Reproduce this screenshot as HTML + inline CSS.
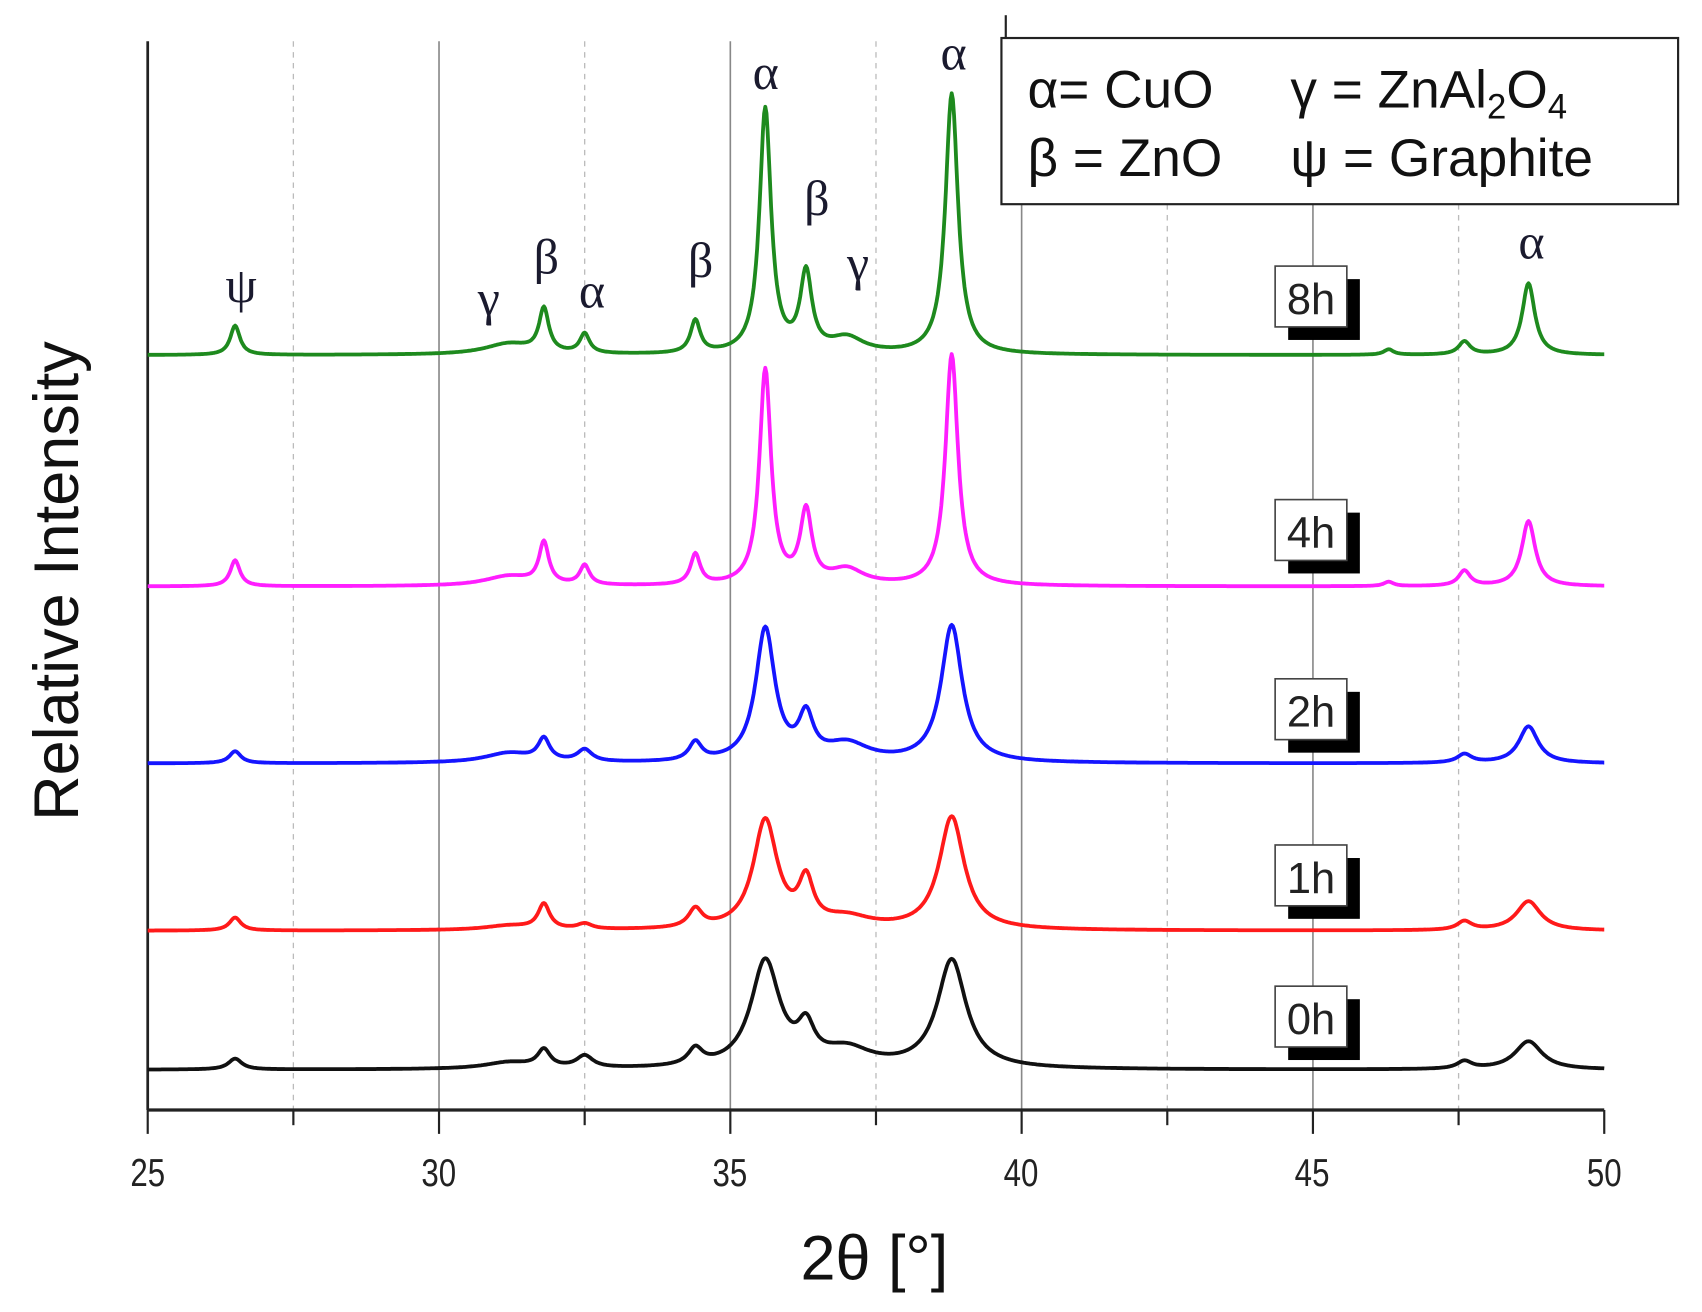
<!DOCTYPE html>
<html><head><meta charset="utf-8"><style>
html,body{margin:0;padding:0;background:#fff;}
svg{display:block;}
</style></head><body>
<svg id="s" width="1702" height="1312" viewBox="0 0 1567 1208" preserveAspectRatio="none" xmlns="http://www.w3.org/2000/svg" font-family="Liberation Sans, Arial, sans-serif">
<rect width="1567" height="1208" fill="#fff"/>
<g id="grid"></g>
<line x1="136" y1="38" x2="136" y2="1022" stroke="#222" stroke-width="2.5"/>
<line x1="136" y1="1022" x2="1477" y2="1022" stroke="#222" stroke-width="3"/>
<line x1="926" y1="14" x2="926" y2="36" stroke="#222" stroke-width="2"/>
<line x1="926" y1="36" x2="1095" y2="36" stroke="#222" stroke-width="2"/>
<g id="ticks" stroke="#222" stroke-width="2"></g>
<g font-size="36" fill="#222" text-anchor="middle">
<text transform="translate(136,1092) scale(0.8,1)">25</text><text transform="translate(404,1092) scale(0.8,1)">30</text><text transform="translate(672,1092) scale(0.8,1)">35</text>
<text transform="translate(940,1092) scale(0.8,1)">40</text><text transform="translate(1208,1092) scale(0.8,1)">45</text><text transform="translate(1477,1092) scale(0.8,1)">50</text>
</g>
<text x="805" y="1178" font-size="58" text-anchor="middle" fill="#111">2θ [°]</text>
<text transform="translate(72,535) rotate(-90)" font-size="58" text-anchor="middle" fill="#111">Relative Intensity</text>
<g id="curves" fill="none" stroke-width="3.5" stroke-linejoin="round"></g>
<g id="labels"></g>
<g font-family="Liberation Serif, serif" font-size="46" fill="#1a1a2e" text-anchor="middle">
<text x="222" y="278">ψ</text><text x="450" y="290">γ</text><text x="503" y="252">β</text>
<text x="545" y="283">α</text><text x="645" y="255">β</text><text x="705" y="82">α</text>
<text x="752" y="198">β</text><text x="790" y="258">γ</text><text x="878" y="64">α</text>
<text x="1410" y="238">α</text>
</g>
<rect x="922" y="35" width="623" height="153" fill="#fff" stroke="#222" stroke-width="2"/>
<g font-size="49" fill="#111">
<text x="946" y="99">α= CuO</text>
<text x="1188" y="99">γ = ZnAl<tspan font-size="32" dy="10">2</tspan><tspan dy="-10">O</tspan><tspan font-size="32" dy="10">4</tspan></text>
<text x="946" y="162">β = ZnO</text>
<text x="1188" y="162">ψ = Graphite</text>
</g>
</svg>
<script>
const NS="http://www.w3.org/2000/svg";
const X=d=>136+(d-25)*1341/25;
function el(p,t,a,txt){const e=document.createElementNS(NS,t);for(const k in a)e.setAttribute(k,a[k]);if(txt)e.textContent=txt;document.getElementById(p).appendChild(e);return e;}
for(let d=27.5;d<50;d+=2.5){const solid=(d%5===0);
 el("grid","line",{x1:X(d),x2:X(d),y1:38,y2:1022,stroke:solid?"#888":"#bbb","stroke-width":solid?1.5:1.2,"stroke-dasharray":solid?"":"5,5"});}
for(let d=25;d<=50;d+=2.5){el("ticks","line",{x1:X(d),x2:X(d),y1:1022,y2:d%5===0?1044:1036});}
const S=[
 {c:"#1e8a1e",b:327,p:[[26.5,27,.1],[31.2,10,.5],[31.8,40,.1],[32.5,18,.1],[34.4,30,.1],[35.6,225,.12],[36.3,72,.12],[37,14,.35],[38.8,240,.13],[46.3,5,.1],[47.6,12,.12],[48.7,66,.13]],lb:272},
 {c:"#ff1eff",b:540,p:[[26.5,24,.1],[31.2,9,.5],[31.8,38,.1],[32.5,18,.1],[34.4,28,.1],[35.6,198,.12],[36.3,66,.12],[37,14,.35],[38.8,213,.13],[46.3,4,.1],[47.6,14,.12],[48.7,60,.14]],lb:487},
 {c:"#1515ff",b:703,p:[[26.5,11,.12],[31.2,9,.5],[31.8,20,.12],[32.5,11,.15],[34.4,17,.13],[35.6,122,.2],[36.3,38,.15],[37,16,.45],[38.8,126,.22],[47.6,8,.15],[48.7,34,.2]],lb:652},
 {c:"#ff1a1a",b:857,p:[[26.5,12,.12],[31.2,4,.5],[31.8,23,.12],[32.5,5,.15],[34.4,17,.14],[35.6,100,.25],[36.3,40,.15],[37,10,.5],[38.8,104,.26],[47.6,8,.15],[48.7,27,.25]],lb:805},
 {c:"#111",b:985,p:[[26.5,10,.14],[31.2,6,.5],[31.8,16,.13],[32.5,11,.17],[34.4,15,.15],[35.6,98,.3],[36.3,30,.17],[37,16,.5],[38.8,100,.3],[47.6,7,.15],[48.7,26,.28]],lb:935}
];
for(const s of S){let d="";
 for(let t=25;t<=50.001;t+=0.02){let y=0;for(const [p,h,w] of s.p){const u=(t-p)/w;y+=h/(1+u*u);}
  d+=(d?"L":"M")+X(t).toFixed(1)+","+(s.b-y).toFixed(1);}
 el("curves","path",{d:d,stroke:s.c});}
const L=["8h","4h","2h","1h","0h"];
S.forEach((s,i)=>{const y=s.lb-27;
 el("labels","rect",{x:1186,y:y+12,width:66,height:56,fill:"#000"});
 el("labels","rect",{x:1174,y:y,width:66,height:56,fill:"#fff",stroke:"#444","stroke-width":1.5});
 el("labels","text",{x:1207,y:y+44,"font-size":40,"text-anchor":"middle",fill:"#222"},L[i]);});
</script>
</body></html>
